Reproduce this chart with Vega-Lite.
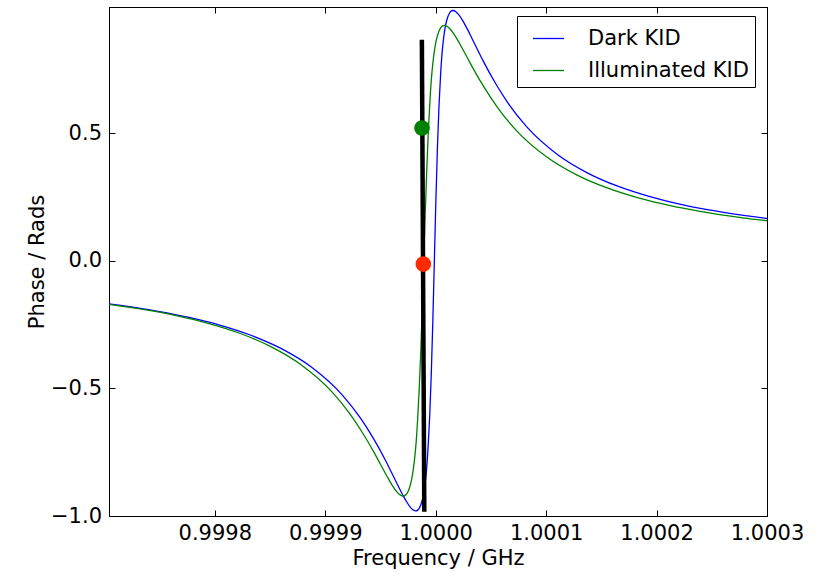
{
  "$schema": "https://vega.github.io/schema/vega-lite/v6.json",
  "width": 658,
  "height": 509,
  "autosize": {"type": "none"},
  "padding": {"left": 109, "top": 7, "right": 53, "bottom": 56},
  "background": "white",
  "config": {
    "view": {"stroke": "black", "strokeWidth": 1},
    "font": "DejaVu Sans"
  },
  "datasets": {
    "curves": [
      {"f": 0.9996988, "phase": -0.1660, "series": "Dark KID"},
      {"f": 0.9997488, "phase": -0.1981, "series": "Dark KID"},
      {"f": 0.9997766, "phase": -0.2219, "series": "Dark KID"},
      {"f": 0.9998044, "phase": -0.2519, "series": "Dark KID"},
      {"f": 0.9998321, "phase": -0.2909, "series": "Dark KID"},
      {"f": 0.9998599, "phase": -0.3435, "series": "Dark KID"},
      {"f": 0.9998877, "phase": -0.4174, "series": "Dark KID"},
      {"f": 0.9999155, "phase": -0.5264, "series": "Dark KID"},
      {"f": 0.9999321, "phase": -0.6178, "series": "Dark KID"},
      {"f": 0.9999432, "phase": -0.6932, "series": "Dark KID"},
      {"f": 0.9999544, "phase": -0.7809, "series": "Dark KID"},
      {"f": 0.9999599, "phase": -0.8287, "series": "Dark KID"},
      {"f": 0.9999655, "phase": -0.8774, "series": "Dark KID"},
      {"f": 0.9999682, "phase": -0.9013, "series": "Dark KID"},
      {"f": 0.9999710, "phase": -0.9242, "series": "Dark KID"},
      {"f": 0.9999738, "phase": -0.9452, "series": "Dark KID"},
      {"f": 0.9999766, "phase": -0.9630, "series": "Dark KID"},
      {"f": 0.9999794, "phase": -0.9757, "series": "Dark KID"},
      {"f": 0.9999821, "phase": -0.9803, "series": "Dark KID"},
      {"f": 0.9999835, "phase": -0.9780, "series": "Dark KID"},
      {"f": 0.9999849, "phase": -0.9714, "series": "Dark KID"},
      {"f": 0.9999877, "phase": -0.9402, "series": "Dark KID"},
      {"f": 0.9999891, "phase": -0.9113, "series": "Dark KID"},
      {"f": 0.9999905, "phase": -0.8693, "series": "Dark KID"},
      {"f": 0.9999919, "phase": -0.8094, "series": "Dark KID"},
      {"f": 0.9999932, "phase": -0.7247, "series": "Dark KID"},
      {"f": 0.9999946, "phase": -0.6064, "series": "Dark KID"},
      {"f": 0.9999960, "phase": -0.4456, "series": "Dark KID"},
      {"f": 0.9999974, "phase": -0.2390, "series": "Dark KID"},
      {"f": 0.9999988, "phase": 0.0, "series": "Dark KID"},
      {"f": 1.0000002, "phase": 0.2390, "series": "Dark KID"},
      {"f": 1.0000016, "phase": 0.4456, "series": "Dark KID"},
      {"f": 1.0000030, "phase": 0.6064, "series": "Dark KID"},
      {"f": 1.0000044, "phase": 0.7247, "series": "Dark KID"},
      {"f": 1.0000057, "phase": 0.8094, "series": "Dark KID"},
      {"f": 1.0000071, "phase": 0.8693, "series": "Dark KID"},
      {"f": 1.0000085, "phase": 0.9113, "series": "Dark KID"},
      {"f": 1.0000099, "phase": 0.9402, "series": "Dark KID"},
      {"f": 1.0000127, "phase": 0.9714, "series": "Dark KID"},
      {"f": 1.0000141, "phase": 0.9780, "series": "Dark KID"},
      {"f": 1.0000155, "phase": 0.9803, "series": "Dark KID"},
      {"f": 1.0000182, "phase": 0.9757, "series": "Dark KID"},
      {"f": 1.0000210, "phase": 0.9630, "series": "Dark KID"},
      {"f": 1.0000238, "phase": 0.9452, "series": "Dark KID"},
      {"f": 1.0000266, "phase": 0.9242, "series": "Dark KID"},
      {"f": 1.0000294, "phase": 0.9013, "series": "Dark KID"},
      {"f": 1.0000321, "phase": 0.8774, "series": "Dark KID"},
      {"f": 1.0000377, "phase": 0.8287, "series": "Dark KID"},
      {"f": 1.0000432, "phase": 0.7809, "series": "Dark KID"},
      {"f": 1.0000544, "phase": 0.6932, "series": "Dark KID"},
      {"f": 1.0000655, "phase": 0.6178, "series": "Dark KID"},
      {"f": 1.0000821, "phase": 0.5264, "series": "Dark KID"},
      {"f": 1.0001099, "phase": 0.4174, "series": "Dark KID"},
      {"f": 1.0001377, "phase": 0.3435, "series": "Dark KID"},
      {"f": 1.0001655, "phase": 0.2909, "series": "Dark KID"},
      {"f": 1.0001932, "phase": 0.2519, "series": "Dark KID"},
      {"f": 1.0002210, "phase": 0.2219, "series": "Dark KID"},
      {"f": 1.0002488, "phase": 0.1981, "series": "Dark KID"},
      {"f": 1.0003044, "phase": 0.1630, "series": "Dark KID"},
      {"f": 0.9997003, "phase": -0.1683, "series": "Illuminated KID"},
      {"f": 0.9997392, "phase": -0.1936, "series": "Illuminated KID"},
      {"f": 0.9997670, "phase": -0.2167, "series": "Illuminated KID"},
      {"f": 0.9997948, "phase": -0.2460, "series": "Illuminated KID"},
      {"f": 0.9998225, "phase": -0.2841, "series": "Illuminated KID"},
      {"f": 0.9998503, "phase": -0.3353, "series": "Illuminated KID"},
      {"f": 0.9998781, "phase": -0.4072, "series": "Illuminated KID"},
      {"f": 0.9999059, "phase": -0.5128, "series": "Illuminated KID"},
      {"f": 0.9999225, "phase": -0.6008, "series": "Illuminated KID"},
      {"f": 0.9999336, "phase": -0.6729, "series": "Illuminated KID"},
      {"f": 0.9999448, "phase": -0.7557, "series": "Illuminated KID"},
      {"f": 0.9999503, "phase": -0.8000, "series": "Illuminated KID"},
      {"f": 0.9999559, "phase": -0.8442, "series": "Illuminated KID"},
      {"f": 0.9999586, "phase": -0.8653, "series": "Illuminated KID"},
      {"f": 0.9999614, "phase": -0.8849, "series": "Illuminated KID"},
      {"f": 0.9999642, "phase": -0.9019, "series": "Illuminated KID"},
      {"f": 0.9999670, "phase": -0.9150, "series": "Illuminated KID"},
      {"f": 0.9999698, "phase": -0.9218, "series": "Illuminated KID"},
      {"f": 0.9999705, "phase": -0.9222, "series": "Illuminated KID"},
      {"f": 0.9999725, "phase": -0.9191, "series": "Illuminated KID"},
      {"f": 0.9999753, "phase": -0.9013, "series": "Illuminated KID"},
      {"f": 0.9999781, "phase": -0.8591, "series": "Illuminated KID"},
      {"f": 0.9999795, "phase": -0.8242, "series": "Illuminated KID"},
      {"f": 0.9999809, "phase": -0.7763, "series": "Illuminated KID"},
      {"f": 0.9999823, "phase": -0.7114, "series": "Illuminated KID"},
      {"f": 0.9999836, "phase": -0.6248, "series": "Illuminated KID"},
      {"f": 0.9999850, "phase": -0.5111, "series": "Illuminated KID"},
      {"f": 0.9999864, "phase": -0.3666, "series": "Illuminated KID"},
      {"f": 0.9999878, "phase": -0.1927, "series": "Illuminated KID"},
      {"f": 0.9999892, "phase": 0.0, "series": "Illuminated KID"},
      {"f": 0.9999906, "phase": 0.1927, "series": "Illuminated KID"},
      {"f": 0.9999920, "phase": 0.3666, "series": "Illuminated KID"},
      {"f": 0.9999934, "phase": 0.5111, "series": "Illuminated KID"},
      {"f": 0.9999948, "phase": 0.6248, "series": "Illuminated KID"},
      {"f": 0.9999961, "phase": 0.7114, "series": "Illuminated KID"},
      {"f": 0.9999975, "phase": 0.7763, "series": "Illuminated KID"},
      {"f": 0.9999989, "phase": 0.8242, "series": "Illuminated KID"},
      {"f": 1.0000003, "phase": 0.8591, "series": "Illuminated KID"},
      {"f": 1.0000031, "phase": 0.9013, "series": "Illuminated KID"},
      {"f": 1.0000059, "phase": 0.9191, "series": "Illuminated KID"},
      {"f": 1.0000079, "phase": 0.9222, "series": "Illuminated KID"},
      {"f": 1.0000086, "phase": 0.9218, "series": "Illuminated KID"},
      {"f": 1.0000114, "phase": 0.9150, "series": "Illuminated KID"},
      {"f": 1.0000142, "phase": 0.9019, "series": "Illuminated KID"},
      {"f": 1.0000170, "phase": 0.8849, "series": "Illuminated KID"},
      {"f": 1.0000198, "phase": 0.8653, "series": "Illuminated KID"},
      {"f": 1.0000225, "phase": 0.8442, "series": "Illuminated KID"},
      {"f": 1.0000281, "phase": 0.8000, "series": "Illuminated KID"},
      {"f": 1.0000336, "phase": 0.7557, "series": "Illuminated KID"},
      {"f": 1.0000448, "phase": 0.6729, "series": "Illuminated KID"},
      {"f": 1.0000559, "phase": 0.6008, "series": "Illuminated KID"},
      {"f": 1.0000725, "phase": 0.5128, "series": "Illuminated KID"},
      {"f": 1.0001003, "phase": 0.4072, "series": "Illuminated KID"},
      {"f": 1.0001281, "phase": 0.3353, "series": "Illuminated KID"},
      {"f": 1.0001559, "phase": 0.2841, "series": "Illuminated KID"},
      {"f": 1.0001836, "phase": 0.2460, "series": "Illuminated KID"},
      {"f": 1.0002114, "phase": 0.2167, "series": "Illuminated KID"},
      {"f": 1.0002392, "phase": 0.1936, "series": "Illuminated KID"},
      {"f": 1.0002781, "phase": 0.1683, "series": "Illuminated KID"},
      {"f": 1.0003059, "phase": 0.1538, "series": "Illuminated KID"}
    ],
    "marker": [
      {"f": 0.9999875, "phase": 0.866},
      {"f": 0.9999897, "phase": -0.983}
    ],
    "greenDot": [{"f": 0.9999876, "phase": 0.52}],
    "redDot": [{"f": 0.9999888, "phase": -0.013}]
  },
  "resolve": {"axis": {"x": "independent", "y": "independent"}},
  "layer": [
    {
      "data": {"name": "curves"},
      "mark": {"type": "line", "strokeWidth": 1.3, "clip": true, "interpolate": "monotone"},
      "encoding": {
        "x": {
          "field": "f", "type": "quantitative",
          "scale": {"domain": [0.9997042, 1.0003], "nice": false, "zero": false},
          "axis": {
            "orient": "bottom", "values": [0.9998, 0.9999, 1.0, 1.0001, 1.0002, 1.0003],
            "format": ".4f", "tickSize": -6, "labelPadding": 12, "grid": false,
            "title": "Frequency / GHz", "domainColor": "black", "tickColor": "black",
            "labelFont": "DejaVu Sans", "labelFontSize": 21, "labelColor": "black",
            "titleFont": "DejaVu Sans", "titleFontSize": 21, "titleFontWeight": "normal",
            "titleColor": "black", "titlePadding": 4, "labelFlush": false, "labelOverlap": false
          }
        },
        "y": {
          "field": "phase", "type": "quantitative",
          "scale": {"domain": [-1.0, 0.994], "nice": false, "zero": false},
          "axis": {
            "orient": "left", "values": [-1.0, -0.5, 0.0, 0.5],
            "format": ".1f", "tickSize": -6, "labelPadding": 13.5, "grid": false,
            "title": "Phase / Rads", "domainColor": "black", "tickColor": "black",
            "labelFont": "DejaVu Sans", "labelFontSize": 21, "labelColor": "black",
            "titleFont": "DejaVu Sans", "titleFontSize": 21, "titleFontWeight": "normal",
            "titleColor": "black", "titlePadding": 3, "labelFlush": false, "labelOverlap": false
          }
        },
        "color": {
          "field": "series", "type": "nominal",
          "scale": {"domain": ["Dark KID", "Illuminated KID"], "range": ["#0000ff", "#008000"]},
          "legend": {
            "orient": "none", "legendX": 408, "legendY": 9, "title": null,
            "symbolType": "stroke", "symbolSize": 961, "symbolStrokeWidth": 1.3,
            "symbolOffset": 9, "labelOffset": 23, "rowPadding": 5, "padding": 6,
            "strokeColor": "black", "fillColor": "white", "cornerRadius": 0,
            "labelFont": "DejaVu Sans", "labelFontSize": 21, "labelColor": "black",
            "labelLimit": 400
          }
        }
      }
    },
    {
      "data": {"name": "marker"},
      "mark": {"type": "line", "color": "black", "strokeWidth": 4.5, "strokeCap": "butt"},
      "encoding": {
        "x": {
          "field": "f", "type": "quantitative",
          "axis": {
            "orient": "top", "values": [0.9998, 0.9999, 1.0, 1.0001, 1.0002, 1.0003],
            "labels": false, "tickSize": -6, "grid": false, "title": null,
            "domainColor": "black", "tickColor": "black"
          }
        },
        "y": {
          "field": "phase", "type": "quantitative",
          "axis": {
            "orient": "right", "values": [-1.0, -0.5, 0.0, 0.5],
            "labels": false, "tickSize": -6, "grid": false, "title": null,
            "domainColor": "black", "tickColor": "black"
          }
        }
      }
    },
    {
      "data": {"name": "greenDot"},
      "mark": {"type": "circle", "color": "#008000", "opacity": 1, "size": 245},
      "encoding": {
        "x": {"field": "f", "type": "quantitative", "axis": null},
        "y": {"field": "phase", "type": "quantitative", "axis": null}
      }
    },
    {
      "data": {"name": "redDot"},
      "mark": {"type": "circle", "color": "#ff2a00", "opacity": 1, "size": 245},
      "encoding": {
        "x": {"field": "f", "type": "quantitative", "axis": null},
        "y": {"field": "phase", "type": "quantitative", "axis": null}
      }
    }
  ]
}
